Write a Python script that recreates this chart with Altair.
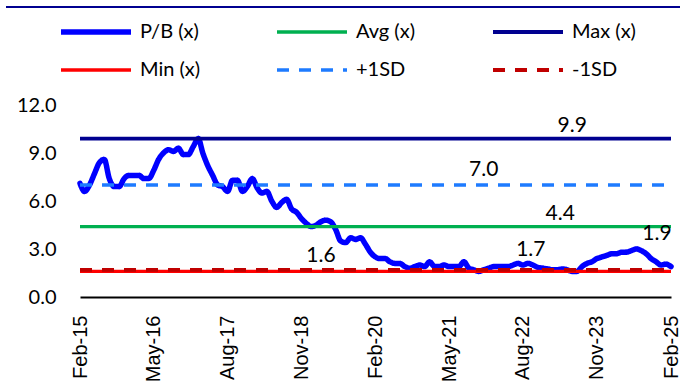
import altair as alt
import pandas as pd

# ---------------- data ----------------
start_month = "2015-02-01"
pb_values = [
    7.1, 6.6, 7.0, 7.7, 8.4, 8.6, 7.4, 6.9, 6.9, 7.4,
    7.6, 7.6, 7.6, 7.4, 7.4, 7.9, 8.6, 9.0, 9.2, 9.1,
    9.3, 8.9, 8.9, 9.4, 9.9, 9.0, 8.2, 7.6, 7.0, 6.9,
    6.6, 7.3, 7.3, 6.6, 6.9, 7.4, 6.8, 6.5, 6.6, 6.0,
    5.6, 5.9, 6.1, 5.5, 5.3, 4.9, 4.6, 4.4, 4.5, 4.7,
    4.8, 4.7, 4.2, 3.5, 3.4, 3.7, 3.6, 3.7, 3.3, 2.8,
    2.5, 2.4, 2.4, 2.2, 2.1, 2.1, 1.9, 1.8, 1.9, 2.0,
    1.9, 2.2, 1.9, 1.9, 2.0, 1.9, 1.9, 1.9, 2.2, 1.8,
    1.7, 1.6, 1.7, 1.8, 1.9, 1.9, 1.9, 1.9, 2.0, 2.1,
    2.0, 2.1, 2.0, 1.85, 1.8, 1.75, 1.7, 1.7, 1.75, 1.7,
    1.6, 1.6, 1.9, 2.1, 2.2, 2.4, 2.5, 2.6, 2.7, 2.7,
    2.8, 2.8, 2.9, 3.0, 2.9, 2.7, 2.4, 2.2, 2.0, 2.05,
    1.9,
]
series_names = ["P/B (x)", "Avg (x)", "Max (x)", "Min (x)", "+1SD", "-1SD"]
series_colors = ["#0000FF", "#00B050", "#000090", "#FF0000", "#1E7BFF", "#C00000"]
const_names = ["Avg (x)", "Max (x)", "Min (x)", "+1SD", "-1SD"]
const_values = [4.4, 9.9, 1.6, 7.0, 1.7]
tick_labels = ["Feb-15", "May-16", "Aug-17", "Nov-18", "Feb-20",
               "May-21", "Aug-22", "Nov-23", "Feb-25"]
y_ticks = [0, 3, 6, 9, 12]

# value labels: (month index, value, text)
label_months = [100, 82, 98, 49, 92, 120]
label_values = [9.9, 7.0, 4.4, 1.6, 1.7, 1.9]
label_texts = ["9.9", "7.0", "4.4", "1.6", "1.7", "1.9"]
# styling offsets for the labels (dx, dy)
label_offsets = [(0, -13), (0, -15), (-2, -13), (0, -15), (-2, -20), (-14, -33)]

# ---------------- tables ----------------
dates = pd.date_range(start_month, periods=len(pb_values), freq="MS")
date_str = [d.strftime("%Y-%m-%d") for d in dates]

pb_df = pd.DataFrame({"date": date_str, "value": pb_values, "series": "P/B (x)"})
rows = []
for name, val in zip(const_names, const_values):
    rows.append({"date": date_str[0], "value": val, "series": name})
    rows.append({"date": date_str[-1], "value": val, "series": name})
const_df = pd.DataFrame(rows)

lab_df = pd.DataFrame({
    "date": [date_str[m] for m in label_months],
    "value": label_values,
    "text": label_texts,
})

def ms(ts):
    return int(pd.Timestamp(ts).timestamp() * 1000)

tick_vals = [ms(pd.to_datetime(t, format="%b-%y")) for t in tick_labels]
x_domain = [ms(dates[0]), ms(dates[-1])]

x_enc = alt.X("date:T",
              scale=alt.Scale(type="utc", domain=x_domain, nice=False),
              axis=alt.Axis(values=tick_vals, format="%b-%y", labelAngle=270,
                            labelFont="Liberation Sans", labelFontSize=20,
                            labelColor="black", ticks=False, labelPadding=18,
                            domainColor="black", domainWidth=2, grid=False,
                            title=None, labelBaseline="middle", labelAlign="right",
                            labelOverlap=False, labelFlush=False))
y_enc = alt.Y("value:Q",
              scale=alt.Scale(domain=[0, 12], nice=False),
              axis=alt.Axis(values=y_ticks, format=".1f", labelFont="Lato",
                            labelFontSize=20, labelColor="black", ticks=False,
                            domain=False, grid=False, labelPadding=24, title=None))

color_enc = alt.Color("series:N",
                      scale=alt.Scale(domain=series_names, range=series_colors),
                      legend=alt.Legend(orient="none", legendX=-22, legendY=-85,
                                        direction="horizontal", columns=3,
                                        symbolType="stroke", symbolSize=4900,
                                        clipHeight=24, gridAlign="all",
                                        labelFont="Lato", labelFontSize=20,
                                        labelColor="black", columnPadding=70,
                                        rowPadding=14, title=None, labelOffset=6,
                                        padding=0, labelLimit=200))
dash_enc = alt.StrokeDash("series:N",
                          scale=alt.Scale(domain=series_names,
                                          range=[[1, 0], [1, 0], [1, 0], [1, 0],
                                                 [12, 10], [12, 10]]))
width_enc = alt.StrokeWidth("series:N",
                            scale=alt.Scale(type="ordinal", domain=series_names,
                                            range=[5.5, 3.3, 3.8, 3.3, 3.3, 3.8]))

pb_layer = alt.Chart(pb_df).mark_line(interpolate="monotone", strokeCap="round").encode(
    x=x_enc, y=y_enc, color=color_enc, strokeDash=dash_enc, strokeWidth=width_enc,
    detail="series:N")
const_layer = alt.Chart(const_df).mark_line().encode(
    x=x_enc, y=y_enc, color=color_enc, strokeDash=dash_enc, strokeWidth=width_enc,
    detail="series:N")

text_layers = []
for i, (dx, dy) in enumerate(label_offsets):
    t = alt.Chart(lab_df.iloc[[i]]).mark_text(
        font="Lato", fontSize=21, color="black", dx=dx, dy=dy,
        baseline="middle", align="center").encode(x=x_enc, y=y_enc, text="text:N")
    text_layers.append(t)

top_rule = alt.Chart(pb_df.iloc[[0]]).mark_rule(color="#000090", strokeWidth=2).encode(
    x=alt.value(-74), x2=alt.value(600), y=alt.value(-98))

chart = alt.layer(pb_layer, const_layer, *text_layers, top_rule).properties(
    width=591, height=192,
    autosize=alt.AutoSizeParams(type="none"),
    padding={"left": 80, "top": 105, "right": 9, "bottom": 90},
    background="white",
).configure_view(stroke=None)

chart.save("out.html", embed_options={"renderer": "svg", "actions": False})
